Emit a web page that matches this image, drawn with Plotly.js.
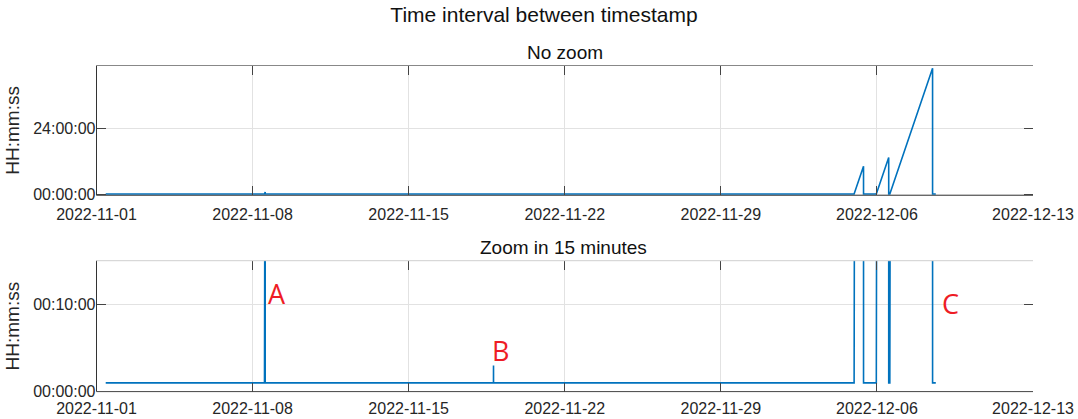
<!DOCTYPE html>
<html>
<head>
<meta charset="utf-8">
<script src="https://cdn.plot.ly/plotly-3.0.1.min.js"></script>
<style>html,body{margin:0;padding:0;background:#fff;}#chart{width:1078px;height:419px;}</style>
</head>
<body>
<div id="chart"></div>
<script>
// ---- data ----
const timestamps = [
  '2022-11-01 09:55', '2022-11-08 12:49', '2022-11-08 13:34', '2022-11-08 13:35',
  '2022-11-18 19:17', '2022-11-18 19:20', '2022-11-18 19:21',
  '2022-12-04 23:27', '2022-12-05 09:35', '2022-12-05 09:36',
  '2022-12-05 23:21', '2022-12-06 12:41', '2022-12-06 12:42',
  '2022-12-06 13:54', '2022-12-08 11:54', '2022-12-08 11:55', '2022-12-08 15:22'
];
// interval to previous timestamp, in minutes
const intervalMinutes = [
  1, 1, 45, 1,
  1, 3, 1,
  1, 608, 1,
  1, 800, 1,
  1, 2760, 1, 1
];
const xTickLabels = ['2022-11-01', '2022-11-08', '2022-11-15', '2022-11-22', '2022-11-29', '2022-12-06', '2022-12-13'];
const topTickValues = [0, 1440];
const topTickLabels = ['00:00:00', '24:00:00'];
const zoomTickValues = [0, 10];
const zoomTickLabels = ['00:00:00', '00:10:00'];
const markLabels = ['A', 'B', 'C'];
const markIndex = [2, 5, 14];

// ---- layout helpers ----
const W = 1078, H = 419;
const FONT = '"Liberation Sans", Arial, sans-serif';
const TXT = '#262626';
const xDom = [96.5 / W, 1033 / W];
const yDomTop = [1 - 195.3 / H, 1 - 65.5 / H];
const yDomBot = [1 - 391.6 / H, 1 - 260.7 / H];

const lineStyle = {color: '#0072BD', width: 1.6};
const traces = [
  {x: timestamps, y: intervalMinutes, type: 'scatter', mode: 'lines', line: lineStyle, xaxis: 'x', yaxis: 'y', hoverinfo: 'skip'},
  {x: timestamps, y: intervalMinutes, type: 'scatter', mode: 'lines', line: lineStyle, xaxis: 'x2', yaxis: 'y2', hoverinfo: 'skip'}
];

function xAx(anchor, standoff) {
  return {
    domain: xDom, anchor: anchor, type: 'date',
    range: [xTickLabels[0], xTickLabels[xTickLabels.length - 1]],
    tickmode: 'array', tickvals: xTickLabels, ticktext: xTickLabels,
    ticks: 'inside', ticklen: 9, tickwidth: 1, tickcolor: '#444', mirror: 'ticks',
    ticklabelstandoff: standoff,
    showline: false, showgrid: true, gridcolor: '#e2e2e2', gridwidth: 1, zeroline: false,
    tickfont: {family: FONT, size: 16, color: TXT}
  };
}
function yAx(anchor, dom, range, vals, text) {
  return {
    domain: dom, anchor: anchor, range: range,
    tickmode: 'array', tickvals: vals, ticktext: text,
    ticks: 'inside', ticklen: 9, tickwidth: 1, tickcolor: '#444', mirror: 'ticks',
    showline: false, showgrid: true, gridcolor: '#e2e2e2', gridwidth: 1, zeroline: false,
    tickfont: {family: FONT, size: 16, color: TXT},
    title: {text: 'HH:mm:ss', font: {family: FONT, size: 19, color: TXT}, standoff: 8}
  };
}

function boxLines(xr, yr, topColor) {
  return [
    {type: 'line', xref: xr + ' domain', yref: yr + ' domain', x0: 0, x1: 0, y0: 0, y1: 1, line: {color: '#333', width: 1}},
    {type: 'line', xref: xr + ' domain', yref: yr + ' domain', x0: 0, x1: 1, y0: 0, y1: 0, line: {color: '#444', width: 1}},
    {type: 'line', xref: xr + ' domain', yref: yr + ' domain', x0: 0, x1: 1, y0: 1, y1: 1, line: {color: topColor, width: 1}}
  ];
}

const labelShift = [12, 7, 18];
const labelY = [11.2, 4.7, 10.1];
const annotations = [
  {text: 'No zoom', xref: 'paper', yref: 'paper', x: 565 / W, y: 1 - 53 / H, xanchor: 'center', yanchor: 'middle', showarrow: false, font: {family: FONT, size: 19, color: '#111'}},
  {text: 'Zoom in 15 minutes', xref: 'paper', yref: 'paper', x: 563 / W, y: 1 - 248 / H, xanchor: 'center', yanchor: 'middle', showarrow: false, font: {family: FONT, size: 19, color: '#111'}}
];
markLabels.forEach((m, i) => {
  annotations.push({
    text: m, xref: 'x2', yref: 'y2', x: timestamps[markIndex[i]], y: labelY[i],
    xshift: labelShift[i], xanchor: 'center', yanchor: 'middle', showarrow: false,
    font: {family: '"Open Sans", "Noto Sans", sans-serif', size: 27, color: '#ee1c25'}
  });
});

const layout = {
  width: W, height: H,
  margin: {l: 0, r: 0, t: 0, b: 0},
  paper_bgcolor: '#fff', plot_bgcolor: '#fff',
  showlegend: false,
  title: {text: 'Time interval between timestamp', x: 544 / W, xanchor: 'center', y: 1 - 15 / H, yanchor: 'middle', xref: 'paper', yref: 'paper', font: {family: FONT, size: 21, color: '#111'}},
  xaxis: xAx('y', 8),
  yaxis: yAx('x', yDomTop, [-28, 2820], topTickValues, topTickLabels),
  xaxis2: xAx('y2', 5),
  yaxis2: yAx('x2', yDomBot, [0, 15], zoomTickValues, zoomTickLabels),
  shapes: boxLines('x', 'y', '#888').concat(boxLines('x2', 'y2', '#cfcfcf')),
  annotations: annotations
};

Plotly.newPlot('chart', traces, layout, {staticPlot: true, displayModeBar: false});
</script>
</body>
</html>
